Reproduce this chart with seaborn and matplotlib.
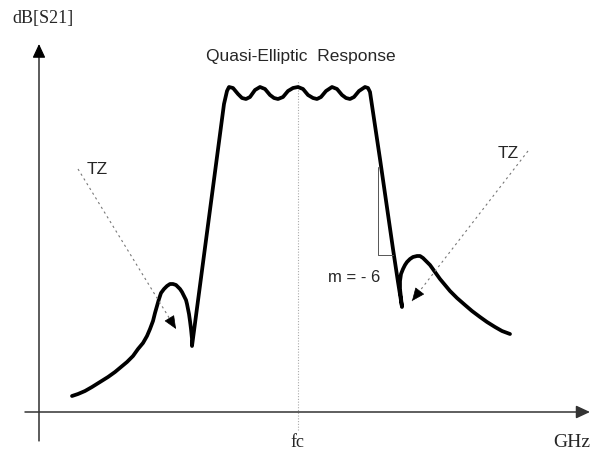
import pandas as pd
import matplotlib.pyplot as plt
import seaborn as sns

# quasi-elliptic S21 sketch (arbitrary units)
freq = [33, 39, 46, 53, 61, 69, 76, 82, 88, 94, 99, 104, 108, 111, 114, 116, 118, 120, 122,
        125, 128, 131, 134, 137, 139, 141, 143, 145, 147, 148, 150, 151, 152, 153, 153,
        185, 188, 190, 194, 199, 203, 207, 211, 216, 221, 226, 231, 235, 239, 244, 249, 254, 259,
        264, 269, 274, 278, 282, 287, 293, 298, 303, 307, 311, 315, 320, 326, 329, 331,
        341, 354, 359, 363, 361, 361, 362, 364, 366, 368, 371, 374, 378, 381, 384, 387, 391,
        396, 401, 406, 411, 418, 426, 433, 441, 448, 456, 463, 471]
s21 = [16, 18, 21, 25, 30, 35, 40, 45, 50, 56, 63, 69, 76, 83, 91, 99, 106, 113, 119,
       123, 126, 128, 128, 127, 125, 123, 120, 116, 112, 108, 98, 91, 83, 73, 66,
       308, 321, 325, 324, 318, 314, 313, 315, 322, 325, 323, 317, 314, 313, 315, 321, 324, 325,
       323, 317, 314, 313, 315, 321, 325, 323, 317, 314, 313, 315, 321, 325, 324, 320,
       253, 163, 130, 105, 123, 131, 138, 143, 147, 150, 153, 155, 156, 156, 154, 151, 147,
       140, 133, 127, 121, 114, 107, 101, 95, 90, 85, 81, 78]

fc = 259
tz_left = [(39, 243), (137, 83)]
tz_right = [(489, 261), (373, 111)]
slope_tri = [(339, 245), (339, 157), (354, 157)]

df = pd.DataFrame({'freq': freq, 's21': s21})

sns.set_style('white')
fig = plt.figure(figsize=(5.94, 4.52), dpi=100)
ax = fig.add_axes([0, 0, 1, 1])

# axes with arrows
ax.annotate('', xy=(0, 368), xytext=(0, -29),
            arrowprops=dict(arrowstyle='-|>,head_length=0.6,head_width=0.28', color='black',
                            lw=0.9, mutation_scale=14, shrinkA=0, shrinkB=0))
ax.annotate('', xy=(551, 0), xytext=(-14, 0),
            arrowprops=dict(arrowstyle='-|>,head_length=0.6,head_width=0.28', color='#333333',
                            lw=1.1, mutation_scale=14, shrinkA=0, shrinkB=0))

# centre frequency marker
ax.plot([fc, fc], [-18, 331], color='#aaaaaa', lw=0.8, ls=(0, (1, 1.5)))

sns.lineplot(data=df, x='freq', y='s21', sort=False, estimator=None, color='black',
             lw=2.7, ax=ax, legend=False)
ax.lines[-1].set_solid_joinstyle('round')
ax.lines[-1].set_solid_capstyle('round')
ax.set_xlim(-39, 555)
ax.set_ylim(-39, 413)
ax.axis('off')

# transmission zero arrows
for (x0, y0), (x1, y1) in [tz_left, tz_right]:
    ax.plot([x0, x1], [y0, y1], color='#777777', lw=0.8, ls=(0, (2, 3)))
    dx, dy = x1 - x0, y1 - y0
    n = (dx ** 2 + dy ** 2) ** 0.5
    ax.annotate('', xy=(x1, y1), xytext=(x1 - 9 * dx / n, y1 - 9 * dy / n),
                arrowprops=dict(arrowstyle='-|>,head_length=0.7,head_width=0.3', color='black',
                                lw=0.5, mutation_scale=12, shrinkA=0, shrinkB=0))

# slope triangle
ax.plot([p[0] for p in slope_tri], [p[1] for p in slope_tri], color='#555555', lw=0.7)

serif = ['Liberation Serif', 'DejaVu Serif']
sans = ['Liberation Sans', 'DejaVu Sans']
ax.text(-27, 395, 'dB[S21]', family=serif, fontsize=13, ha='left', va='center')
ax.text(258, -30, 'fc', family=serif, fontsize=13, ha='center', va='center')
ax.text(533, -30, 'GHz', family=serif, fontsize=14, ha='center', va='center')
ax.text(262, 356, 'Quasi-Elliptic  Response', family=sans, fontsize=12.5, ha='center', va='center')
ax.text(58, 243, 'TZ', family=sans, fontsize=12.5, ha='center', va='center')
ax.text(469, 260, 'TZ', family=sans, fontsize=12.5, ha='center', va='center')
ax.text(315, 136, 'm = - 6', family=sans, fontsize=12, ha='center', va='center')

plt.savefig('out.png', dpi=100)
plt.close()
